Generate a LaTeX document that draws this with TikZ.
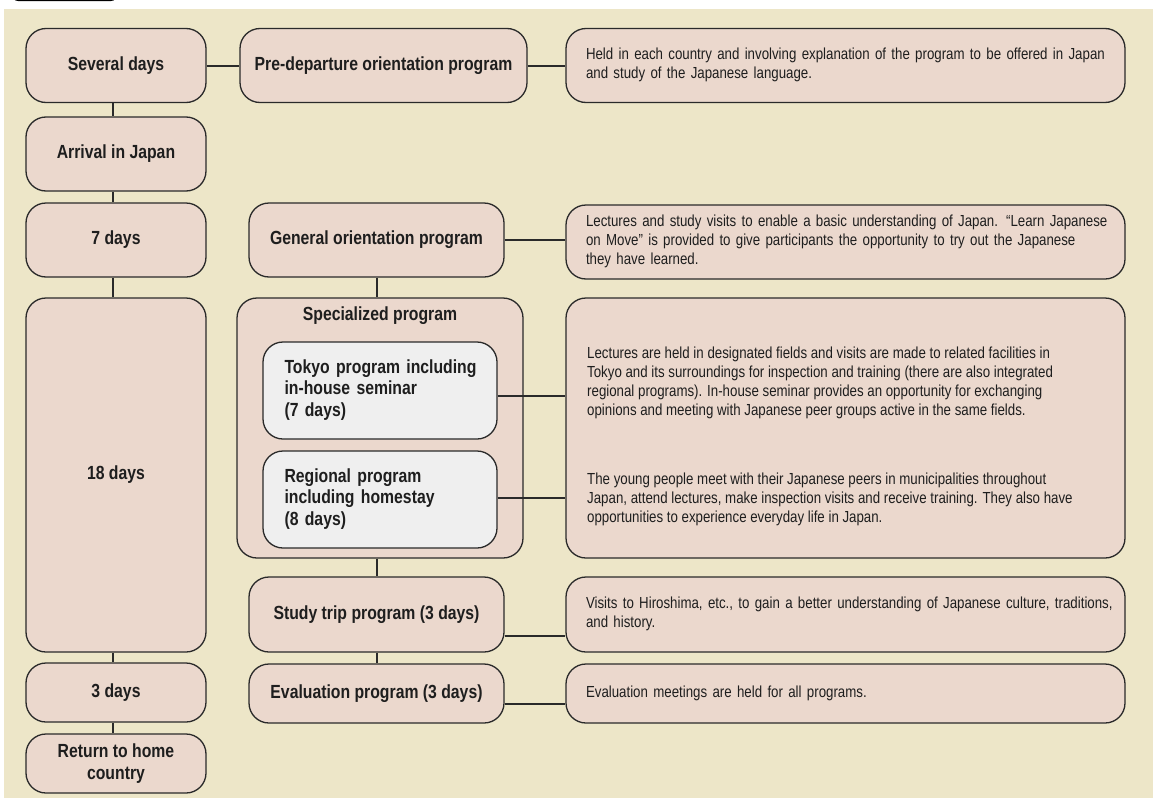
\documentclass[tikz,border=0pt]{standalone}
\usepackage{fontspec}
\setmainfont[FakeStretch=0.83]{Liberation Sans}
\definecolor{bgbeige}{HTML}{EDE6C8}
\definecolor{boxpink}{HTML}{EBD8CD}
\definecolor{boxgray}{HTML}{EFEFEF}
\definecolor{boxline}{HTML}{2A2A2A}
\definecolor{ink}{HTML}{1E1E1E}
\newcommand{\labelfont}{\fontsize{19}{21.7}\selectfont\bfseries}
\newcommand{\notefont}{\fontsize{16}{19}\selectfont}
\newcommand{\textlines}[1]{\begin{tabular}{@{}l@{}}#1\end{tabular}}
\begin{document}
\begin{tikzpicture}[x=1pt, y=-1pt, line join=round,
    box/.style={draw=boxline, fill=boxpink, line width=1.3pt, rounded corners=20pt, inner sep=0pt, align=center, font=\labelfont, text=ink},
    subbox/.style={box, fill=boxgray, align=left, text width=191, inner xsep=21.5pt, minimum height=97},
    note/.style={box, font=\notefont, align=left, text width=519, inner xsep=20pt},
    notetext/.style={font=\notefont, align=left, inner sep=0pt, text=ink, anchor=west},
    link/.style={draw=boxline, line width=2pt}]
    \useasboundingbox (0,0) rectangle (1153,803);
    \fill[bgbeige] (4,9) rectangle (1153,798);
    \fill[black, rounded corners=6pt] (12,-12) rectangle (117,1);
    % time line
    \node[box, minimum width=180, minimum height=74] (sev) at (116,65.5) {Several days};
    \node[box, minimum width=180, minimum height=74] (arr) at (116,154) {Arrival in Japan};
    \node[box, minimum width=180, minimum height=74] (d7) at (116,240) {7 days};
    \node[box, minimum width=180, minimum height=354] (d18) at (116,475) {18 days};
    \node[box, minimum width=180, minimum height=59] (d3) at (116,692.5) {3 days};
    \node[box, minimum width=180, minimum height=59] (ret) at (116,763.5) {Return to home\\country};
    % programs
    \node[box, minimum width=287, minimum height=74] (pre) at (383.5,65.5) {Pre-departure orientation program};
    \node[box, minimum width=255, minimum height=74] (gen) at (376.5,240) {General orientation program};
    \node[box, minimum width=286, minimum height=260] (spec) at (380,428) {};
    \node[font=\labelfont, text=ink] (spectitle) at (380,316) {Specialized program};
    \node[subbox] (tokyo) at (380,390.5) {\textlines{Tokyo program including\\in-house seminar\\(7 days)}};
    \node[subbox] (reg) at (380,499.5) {\textlines{Regional program\\including homestay\\(8 days)}};
    \node[box, minimum width=255, minimum height=75] (study) at (376.5,614.5) {Study trip program (3 days)};
    \node[box, minimum width=255, minimum height=59] (eval) at (376.5,693.5) {Evaluation program (3 days)};
    % descriptions
    \node[note, minimum height=74] (r1) at (845.5,65.5) {\textlines{Held in each country and involving explanation of the program to be offered in Japan\\and study of the Japanese language.}};
    \node[note, minimum height=74] (r2) at (845.5,242) {\textlines{Lectures and study visits to enable a basic understanding of Japan. “Learn Japanese\\on Move” is provided to give participants the opportunity to try out the Japanese\\they have learned.}};
    \node[note, minimum height=260] (r3) at (845.5,428) {};
    \node[notetext] (t3a) at (587,383) {\textlines{Lectures are held in designated fields and visits are made to related facilities in\\Tokyo and its surroundings for inspection and training (there are also integrated\\regional programs). In-house seminar provides an opportunity for exchanging\\opinions and meeting with Japanese peer groups active in the same fields.}};
    \node[notetext] (t3b) at (587,500) {\textlines{The young people meet with their Japanese peers in municipalities throughout\\Japan, attend lectures, make inspection visits and receive training. They also have\\opportunities to experience everyday life in Japan.}};
    \node[note, minimum height=75] (r4) at (845.5,614.5) {\textlines{Visits to Hiroshima, etc., to gain a better understanding of Japanese culture, traditions,\\and history.}};
    \node[note, minimum height=59] (r5) at (845.5,693.5) {\textlines{Evaluation meetings are held for all programs.}};
    % connectors
    \foreach \a/\b in {sev/arr, arr/d7, d7/d18, d18/d3, d3/ret}
        \draw[link] ([xshift=-3pt]\a.south) -- ([xshift=-3pt]\b.north);
    \draw[link] (sev.east) -- (pre.west);
    \draw[link] (pre.east) -- (r1.west);
    \draw[link] (gen.east) -- (gen.east -| r2.west);
    \draw[link] ([yshift=-5pt]tokyo.east) -- ([yshift=-5pt]tokyo.east -| r3.west);
    \draw[link] ([yshift=2pt]reg.east) -- ([yshift=2pt]reg.east -| r3.west);
    \draw[link] ([yshift=-21pt]study.east) -- ([yshift=-21pt]study.east -| r4.west);
    \draw[link] ([yshift=-10pt]eval.east) -- ([yshift=-10pt]eval.east -| r5.west);
    \draw[link] (gen.south) -- (gen.south |- spec.north);
    \draw[link] (study.north |- spec.south) -- (study.north);
    \draw[link] (study.south) -- (eval.north);
\end{tikzpicture}
\end{document}
